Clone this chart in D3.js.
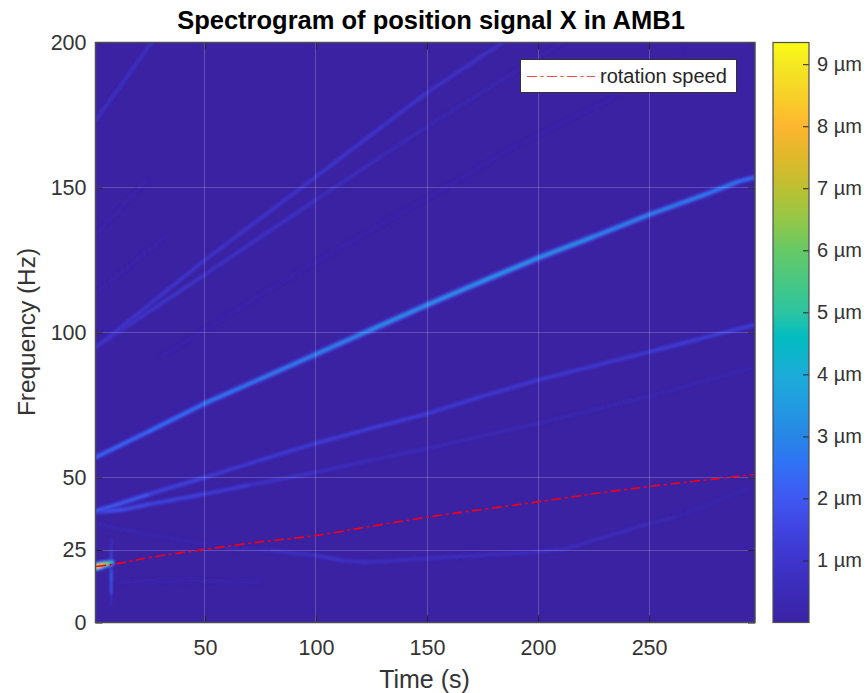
<!DOCTYPE html>
<html>
<head>
<meta charset="utf-8">
<script src="https://cdn.jsdelivr.net/npm/d3@7"></script>
<style>
  html, body { margin: 0; padding: 0; background: #fff; }
  text { font-family: "Liberation Sans", Arial, sans-serif; fill: #262626; }
</style>
</head>
<body>
<div id="chart"></div>
<script>
// ridges: time (s), frequency (Hz), amplitude (um)
var mainT = [1, 25, 50, 75, 100, 125, 150, 175, 200, 225, 250, 275, 290, 297];
var mainF = [57, 66, 75.6, 84, 92.5, 101, 109.5, 117.7, 125.7, 133, 140.6, 147.5, 152, 153.4];
var mainA = [2.3, 2.5, 2.7, 2.9, 3.0, 3.2, 3.5, 3.4, 3.6, 3.2, 3.0, 2.9, 2.6, 2.4];

var upperT = [1, 10, 25, 50, 75, 100, 125, 150, 175, 200, 250, 297];
var upperF = [38.5, 40.6, 44.3, 50, 56, 61.8, 67, 72, 78, 83.6, 93.3, 102.6];
var upperA = [1.9, 2.3, 1.9, 1.2, 1.3, 1.3, 1.4, 1.3, 1.2, 1.2, 1.2, 1.5];

var lowerT = [1, 14, 25, 50, 70, 100, 125, 150, 200, 250, 297];
var lowerF = [38, 39, 40.8, 44.3, 47.4, 51.8, 56, 60, 68.7, 78, 88];
var lowerA = [1.9, 1.9, 1.6, 1.5, 1.1, 0.8, 0.6, 0.5, 0.4, 0.3, 0.25];

var lowT = [60, 80, 100, 112, 123, 165, 200, 213, 250, 262, 295];
var lowF = [25.6, 24.9, 23.1, 21.4, 20.8, 22.8, 24.3, 25.5, 34.1, 36.3, 46.3];
var lowA = [0.2, 0.5, 1.1, 0.9, 0.8, 0.7, 0.7, 0.7, 0.55, 0.35, 0.25];

var earlyT = [1, 20, 40, 60];
var earlyF = [34, 31, 28.3, 26];
var earlyA = [0.4, 0.3, 0.2, 0.15];

var hiAT = [1, 50, 100, 129, 150, 184];
var hiAF = [95, 125, 153.7, 170.6, 182.7, 200];
var hiAA = [1.1, 1.05, 1.0, 1.1, 1.0, 0.9];

var hiBT = [1, 50, 100, 129, 150, 189, 211];
var hiBF = [95, 120, 145.8, 160.5, 171, 189.6, 200];
var hiBA = [1.1, 1.05, 0.8, 0.55, 0.45, 0.25, 0.15];

var hiCT = [30, 75, 115, 162, 189, 234, 265];
var hiCF = [91.5, 113, 131, 151.6, 164, 181, 197];
var hiCA = [0.12, 0.15, 0.16, 0.14, 0.14, 0.12, 0.08];

var hiDT = [1, 26];
var hiDF = [173.4, 200];
var hiDA = [0.95, 0.7];

var hiET = [1, 24];
var hiEF = [134, 152.7];
var hiEA = [0.22, 0.15];

var hiFT = [1, 32];
var hiFF = [113.6, 133];
var hiFA = [0.2, 0.12];

var faintT = [12, 40, 75];
var faintF = [14, 14.5, 14];
var faintA = [0.25, 0.2, 0.08];

var spotT = [1, 3, 5, 7, 8];
var spotF = [19.3, 19.7, 20.1, 20.4, 20.6];
var spotA = [8.6, 8, 6.8, 6, 4];

var streakT = [7.8, 7.8, 7.8, 7.8, 7.8, 7.8];
var streakF = [6, 10, 14.5, 18, 25, 29];
var streakA = [0.2, 1.2, 3.0, 1.8, 1.3, 0.4];

var ridges = [
  [hiCT, hiCF, hiCA], [hiET, hiEF, hiEA], [hiFT, hiFF, hiFA], [faintT, faintF, faintA],
  [hiDT, hiDF, hiDA], [hiBT, hiBF, hiBA], [hiAT, hiAF, hiAA],
  [earlyT, earlyF, earlyA], [lowT, lowF, lowA],
  [lowerT, lowerF, lowerA], [upperT, upperF, upperA], [mainT, mainF, mainA]
];

var speedT = [1, 8, 25, 50, 75, 100, 125, 150, 175, 200, 225, 250, 275, 297];
var speedF = [19.3, 20, 22.4, 25.2, 27.8, 30, 33.2, 36.3, 39, 41.6, 44.4, 46.9, 49.1, 51];

var xTicks = [50, 100, 150, 200, 250];
var yTicks = [0, 25, 50, 100, 150, 200];
var cTicks = [1, 2, 3, 4, 5, 6, 7, 8, 9];

// parula-like ramp as it shows in the colorbar
var cStops = [0, 0.5, 1, 1.5, 2, 2.6, 3, 3.5, 4, 4.6, 5, 5.5, 6, 6.5, 7, 7.5, 8, 8.5, 9, 9.35];
var cColors = ["#3a22a3", "#3c2bb8", "#3e35cc", "#4044e0", "#4058f2", "#2f74f5", "#2886e6", "#229be0", "#1bacd8",
  "#02bcc0", "#2cc4a2", "#48c882", "#66c966", "#94c746", "#bcc032", "#dfb82a", "#fdb630", "#f8d028", "#f4e822", "#fbfb14"];

var width = 867, height = 693;
var m = {left: 95.5, right: 755, top: 42.5, bottom: 622.5};

var svg = d3.select("#chart").append("svg")
  .attr("width", width)
  .attr("height", height)
  .style("display", "block");

var x = d3.scaleLinear().domain([0.7, 297.7]).range([m.left, m.right]);
var y = d3.scaleLinear().domain([0, 200]).range([m.bottom, m.top]);
var color = d3.scaleLinear().domain(cStops).range(cColors).clamp(true);
var cy = d3.scaleLinear().domain([0, 9.35]).range([m.bottom, m.top]);

var defs = svg.append("defs");
defs.append("clipPath").attr("id", "plotClip").append("rect")
  .attr("x", m.left).attr("y", m.top)
  .attr("width", m.right - m.left).attr("height", m.bottom - m.top);
var blur = defs.append("filter").attr("id", "soft")
  .attr("x", "-5%").attr("y", "-5%").attr("width", "110%").attr("height", "110%");
blur.append("feGaussianBlur").attr("stdDeviation", 1.1);

var grad = defs.append("linearGradient").attr("id", "cbar")
  .attr("x1", 0).attr("x2", 0).attr("y1", 1).attr("y2", 0);
cStops.forEach(function(d, i){
  grad.append("stop").attr("offset", d / 9.35).attr("stop-color", cColors[i]);
});

// spectrogram
var plot = svg.append("g").attr("clip-path", "url(#plotClip)");
plot.append("rect")
  .attr("x", m.left).attr("y", m.top)
  .attr("width", m.right - m.left).attr("height", m.bottom - m.top)
  .attr("fill", color(0));

var heat = plot.append("g").attr("filter", "url(#soft)")
  .attr("fill", "none").attr("stroke-linecap", "round");

function drawRidge(r, haloW, coreW){
  var segs = d3.range(r[0].length - 1);
  // halo first so the core sits on top
  heat.selectAll(null).data(segs).enter().append("line")
    .attr("x1", function(i){ return x(r[0][i]); })
    .attr("y1", function(i){ return y(r[1][i]); })
    .attr("x2", function(i){ return x(r[0][i + 1]); })
    .attr("y2", function(i){ return y(r[1][i + 1]); })
    .attr("stroke", function(i){ return color((r[2][i] + r[2][i + 1]) * 0.2); })
    .attr("stroke-width", function(i){ return haloW * (4 + (r[2][i] + r[2][i + 1]) * 0.5); });
  heat.selectAll(null).data(segs).enter().append("line")
    .attr("x1", function(i){ return x(r[0][i]); })
    .attr("y1", function(i){ return y(r[1][i]); })
    .attr("x2", function(i){ return x(r[0][i + 1]); })
    .attr("y2", function(i){ return y(r[1][i + 1]); })
    .attr("stroke", function(i){ return color((r[2][i] + r[2][i + 1]) / 2); })
    .attr("stroke-width", function(i){ return coreW * (1.7 + (r[2][i] + r[2][i + 1]) * 0.16); });
}
ridges.forEach(function(r){ drawRidge(r, 1, 1); });
drawRidge([streakT, streakF, streakA], 0.35, 0.8);
drawRidge([spotT, spotF, spotA], 0.75, 1);

// grid
var grid = svg.append("g").attr("stroke", "#fff").attr("stroke-opacity", 0.2)
  .attr("stroke-width", 1).attr("shape-rendering", "crispEdges");
grid.selectAll(".gx").data(xTicks).enter().append("line")
  .attr("x1", function(d){ return x(d); }).attr("x2", function(d){ return x(d); })
  .attr("y1", m.top).attr("y2", m.bottom);
grid.selectAll(".gy").data(yTicks).enter().append("line")
  .attr("y1", function(d){ return y(d); }).attr("y2", function(d){ return y(d); })
  .attr("x1", m.left).attr("x2", m.right);

// rotation speed
var line = d3.line()
  .x(function(d){ return x(d[0]); })
  .y(function(d){ return y(d[1]); })
  .curve(d3.curveMonotoneX);
svg.append("path")
  .datum(d3.zip(speedT, speedF))
  .attr("d", line)
  .attr("fill", "none")
  .attr("stroke", "#f00018")
  .attr("stroke-width", 1.7)
  .attr("stroke-dasharray", "10 3.5 3 3.5");

// axes
function styleAxis(g, size){
  g.selectAll(".domain").remove();
  g.selectAll(".tick line").attr("stroke", "#262626").attr("stroke-width", 1);
  g.selectAll(".tick text").attr("font-size", size).style("fill", "#333");
}
var tickLen = 7;
svg.append("g").attr("transform", "translate(0," + m.bottom + ")")
  .call(d3.axisBottom(x).tickValues(xTicks).tickSize(-tickLen).tickPadding(17))
  .call(styleAxis, 21.5);
svg.append("g").attr("transform", "translate(0," + m.top + ")")
  .call(d3.axisTop(x).tickValues(xTicks).tickSize(-tickLen).tickFormat(""))
  .call(styleAxis, 21.5);
svg.append("g").attr("transform", "translate(" + m.left + ",0)")
  .call(d3.axisLeft(y).tickValues(yTicks).tickSize(-tickLen).tickPadding(9))
  .call(styleAxis, 21.5);
svg.append("g").attr("transform", "translate(" + m.right + ",0)")
  .call(d3.axisRight(y).tickValues(yTicks).tickSize(-tickLen).tickFormat(""))
  .call(styleAxis, 21.5);
svg.append("rect")
  .attr("x", m.left).attr("y", m.top)
  .attr("width", m.right - m.left).attr("height", m.bottom - m.top)
  .attr("fill", "none").attr("stroke", "#4d4d55").attr("stroke-width", 1.5);

// titles
svg.append("text").attr("x", 431).attr("y", 29)
  .attr("text-anchor", "middle").attr("font-size", 25.5).attr("font-weight", "bold")
  .style("fill", "#000").text("Spectrogram of position signal X in AMB1");
svg.append("text").attr("x", 424.5).attr("y", 688)
  .attr("text-anchor", "middle").attr("font-size", 25)
  .style("fill", "#333").text("Time (s)");
svg.append("text").attr("transform", "translate(35,332) rotate(-90)")
  .attr("text-anchor", "middle").attr("font-size", 24.4)
  .style("fill", "#333").text("Frequency (Hz)");

// legend
var lg = svg.append("g");
lg.append("rect").attr("x", 520.5).attr("y", 59.5).attr("width", 216).attr("height", 33)
  .attr("fill", "#fff").attr("stroke", "#333").attr("stroke-width", 1);
lg.append("line").attr("x1", 527).attr("x2", 595).attr("y1", 76.5).attr("y2", 76.5)
  .attr("stroke", "#e84c50").attr("stroke-width", 1.2).attr("stroke-dasharray", "10 3.5 3 3.5");
lg.append("text").attr("x", 600).attr("y", 83).attr("font-size", 20).text("rotation speed");

// colorbar
var cb = svg.append("g");
cb.append("rect").attr("x", 773).attr("y", m.top).attr("width", 36).attr("height", m.bottom - m.top)
  .attr("fill", "url(#cbar)");
cb.append("g").attr("transform", "translate(809,0)")
  .call(d3.axisRight(cy).tickValues(cTicks).tickSize(-6).tickPadding(8)
    .tickFormat(function(d){ return d + " \u00b5m"; }))
  .call(styleAxis, 20);
cb.append("rect").attr("x", 773).attr("y", m.top).attr("width", 36).attr("height", m.bottom - m.top)
  .attr("fill", "none").attr("stroke", "#4d4d55").attr("stroke-width", 1.2);
</script>
</body>
</html>
